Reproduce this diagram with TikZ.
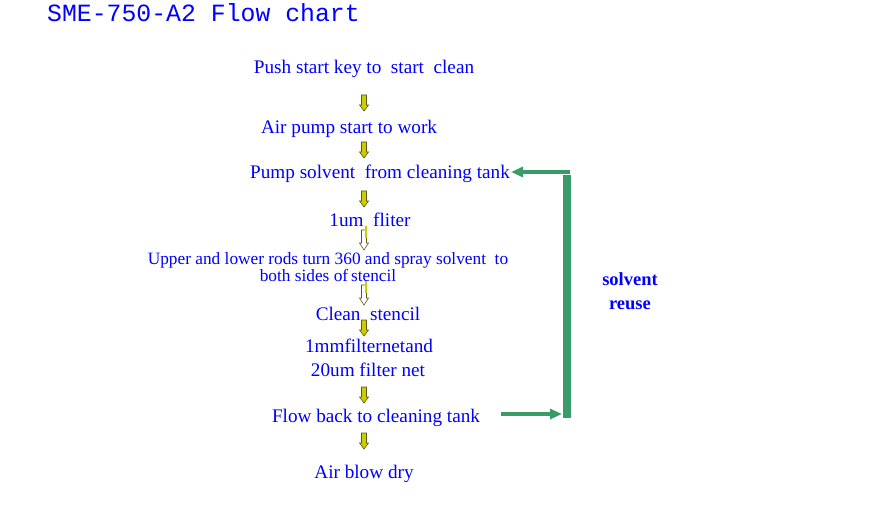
\documentclass[tikz,border=0pt]{standalone}
\usepackage{fontspec}
\setmainfont{Liberation Serif}
\newfontfamily\titlefont{Liberation Mono}
\usetikzlibrary{arrows.meta}
\definecolor{txtblue}{RGB}{0,0,255}
\definecolor{flowgreen}{RGB}{56,155,104}
\definecolor{arrowyellow}{RGB}{204,204,0}
\definecolor{arrowedge}{RGB}{90,90,20}
\tikzset{
  x=1pt, y=-1pt,
  stepnode/.style={text=txtblue, inner sep=1pt, yshift=-2pt, font=\fontsize{19.2}{21}\selectfont},
  smallstep/.style={text=txtblue, inner sep=1pt, yshift=-1pt, align=center, font=\fontsize{17.3}{14}\selectfont},
  greenline/.style={draw=flowgreen, line width=4pt},
  pics/blkdown/.style={code={
    \draw[draw=arrowedge, fill=#1, line width=0.6pt] (-2.5,0) -- (2.5,0) -- (2.5,10) -- (4.5,10) -- (0,16) -- (-4.5,10) -- (-2.5,10) -- cycle;
  }},
  pics/blkdownw/.style={code={
    \draw[draw=arrowedge, fill=white, line width=0.6pt] (-2.5,0) -- (2.5,0) -- (2.5,13) -- (4.5,13) -- (0,20) -- (-4.5,13) -- (-2.5,13) -- cycle;
    \draw[draw=arrowyellow, line width=2pt] (1.5,-4) -- (1.5,8);
  }},
}
\begin{document}
\begin{tikzpicture}
\useasboundingbox (0,0) rectangle (874,510);
\node[text=txtblue, anchor=west, inner sep=0pt, font=\titlefont\fontsize{24.8}{26}\selectfont] (title) at (47,13) {SME-750-A2 Flow chart};

\node[stepnode] (s1) at (364,67) {Push start key to\ \ start\ \ clean};
\node[stepnode] (s2) at (349,127) {Air pump start to work};
\node[stepnode] (s3) at (380,172) {Pump solvent\ \ from cleaning tank};
\node[stepnode] (s4) at (370,218) {1um\ \ fliter};
\node[smallstep] (s5) at (328,266) {Upper and lower rods turn 360 and spray solvent\ \ to\\ both sides of\,stencil};
\node[stepnode] (s6) at (368,312) {Clean\ \ stencil};
\node[stepnode] (s7) at (369,344) {1mmfilternetand};
\node[stepnode] (s8) at (368,368) {20um filter net};
\node[stepnode] (s9) at (376,416) {Flow back to cleaning tank};
\node[stepnode] (s10) at (364,472) {Air blow dry};

\pic at (364,95) {blkdown=arrowyellow};
\pic at (364,142) {blkdown=arrowyellow};
\pic at (364,191) {blkdown=arrowyellow};
\pic at (364,230) {blkdownw};
\pic at (364,285) {blkdownw};
\pic at (364,320) {blkdown=arrowyellow};
\pic at (364,387) {blkdown=arrowyellow};
\pic at (364,433) {blkdown=arrowyellow};

\coordinate (topr) at (570,172);
\coordinate (botl) at (501,414);
\coordinate (bart) at (566.5,175);
\coordinate (barb) at (566.5,418);
\coordinate (botr) at (562,414);
\draw[draw=flowgreen, line width=8pt] (bart) -- (barb);
\draw[greenline, -{Triangle[length=12pt,width=10pt]}] (topr) -- (s3.east |- topr);
\draw[greenline, -{Triangle[length=12pt,width=10pt]}] (botl) -- (botr);

\node[text=txtblue, align=center, font=\bfseries\fontsize{18.5}{24}\selectfont] (reuse) at (630,291) {solvent\\ reuse};
\end{tikzpicture}
\end{document}
